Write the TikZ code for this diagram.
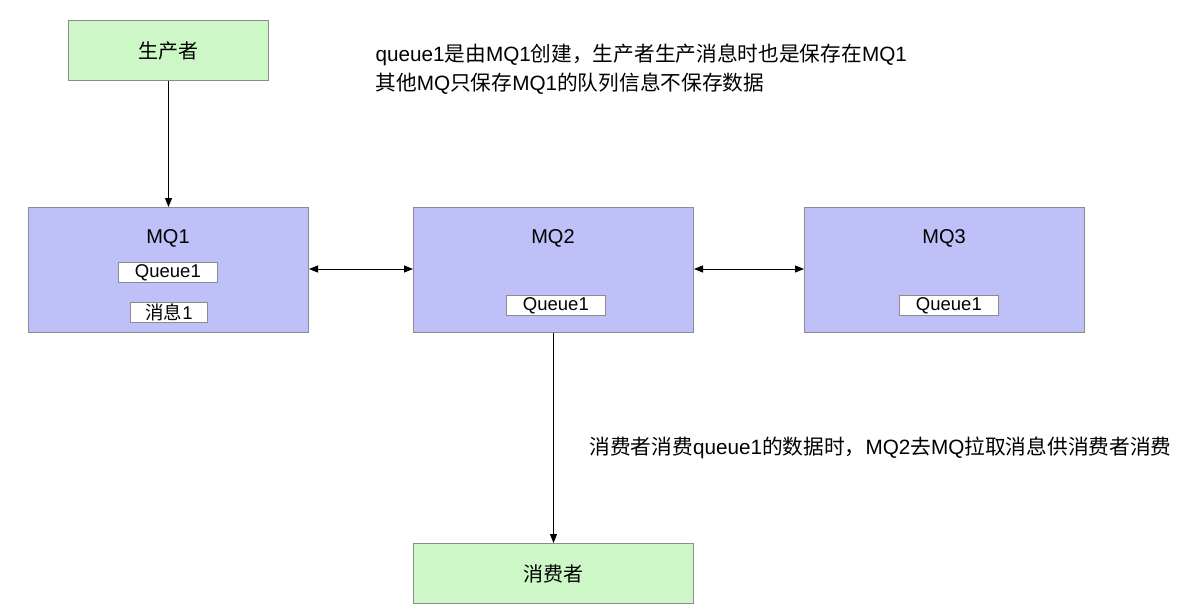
\documentclass[tikz,border=0pt]{standalone}
\usepackage{fontspec}
\setmainfont{Liberation Sans}
\newfontfamily\cjk{Noto Sans CJK SC}
\usetikzlibrary{arrows.meta}
\definecolor{gfill}{HTML}{CDF7C6}
\definecolor{bfill}{HTML}{BEC0F7}
\definecolor{edge}{HTML}{8C8C8C}
\tikzset{
  x=1pt,y=-1pt,
  box/.style={draw=edge,line width=1pt,inner sep=0pt,anchor=north west},
  greenbox/.style={box,fill=gfill},
  mqbox/.style={box,fill=bfill},
  tag/.style={draw=edge,fill=white,line width=0.8pt,inner sep=0pt,anchor=north west,font=\fontsize{18.5}{20}\selectfont},
  lbl/.style={font=\fontsize{20}{22}\selectfont},
  note/.style={font=\fontsize{20.7}{29}\selectfont,anchor=west,align=left},
  conn/.style={line width=0.9pt,-{Triangle[length=9pt,width=7pt]}},
  biconn/.style={line width=0.9pt,{Triangle[length=9pt,width=7pt]}-{Triangle[length=9pt,width=7pt]}}
}
\begin{document}
\begin{tikzpicture}
\useasboundingbox (0,0) rectangle (1180,610);
% boxes
\node[greenbox,minimum width=200pt,minimum height=60pt] (prod) at (68,20) {};
\node[lbl] (prodl) at (prod.center) {\cjk 生产者};
\node[mqbox,minimum width=280pt,minimum height=125pt] (mq1) at (28,207) {};
\node[mqbox,minimum width=280pt,minimum height=125pt] (mq2) at (413,207) {};
\node[mqbox,minimum width=280pt,minimum height=125pt] (mq3) at (804,207) {};
\node[greenbox,minimum width=280pt,minimum height=60pt] (cons) at (413,543) {};
\node[lbl] (consl) at (cons.center) {\cjk 消费者};
% labels
\node[lbl] (mq1l) at (168,238) {MQ1};
\node[lbl] (mq2l) at (553,238) {MQ2};
\node[lbl] (mq3l) at (944,238) {MQ3};
% inner tags
\node[tag,minimum width=99pt,minimum height=20pt] (q1) at (118,262) {Queue1};
\node[tag,minimum width=77pt,minimum height=20pt] (m1) at (130,302) {{\cjk 消息}1};
\node[tag,minimum width=99pt,minimum height=20pt] (q2) at (506,295) {Queue1};
\node[tag,minimum width=99pt,minimum height=20pt] (q3) at (899,295) {Queue1};
% notes
\node[note] (n1) at (372,69) {queue1{\cjk 是由}MQ1{\cjk 创建，生产者生产消息时也是保存在}MQ1\\{\cjk 其他}MQ{\cjk 只保存}MQ1{\cjk 的队列信息不保存数据}};
\node[note] (n2) at (586,448) {{\cjk 消费者消费}queue1{\cjk 的数据时，}MQ2{\cjk 去}MQ{\cjk 拉取消息供消费者消费}};
% connectors
\draw[conn] (prod.south) -- (mq1.north);
\draw[biconn] (mq1.east |- 0,269) -- (mq2.west |- 0,269);
\draw[biconn] (mq2.east |- 0,269) -- (mq3.west |- 0,269);
\draw[conn] (mq2.south) -- (cons.north);
\end{tikzpicture}
\end{document}
